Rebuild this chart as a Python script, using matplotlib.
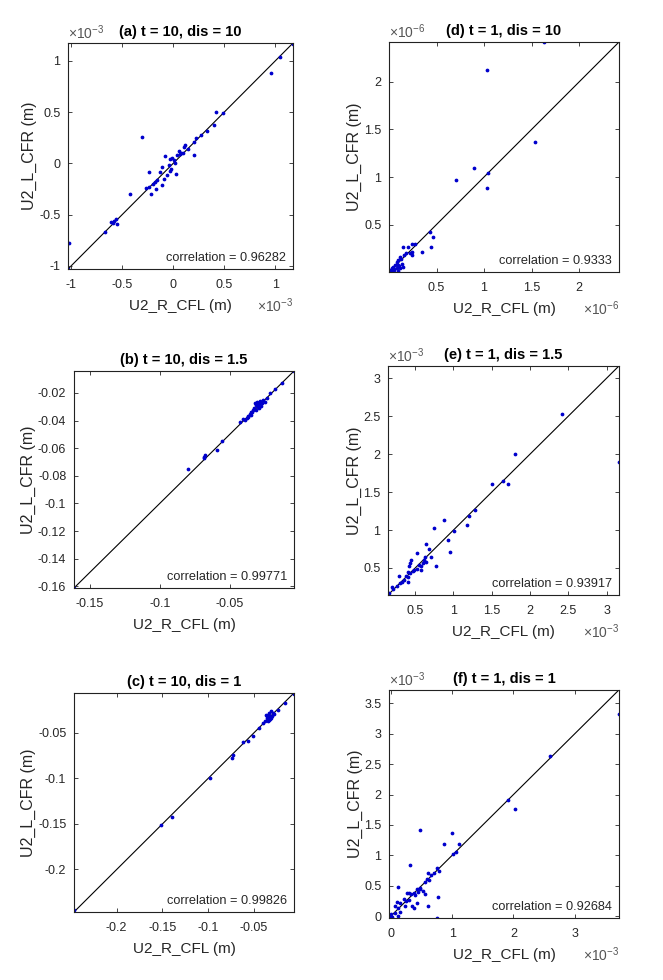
import numpy as np
import matplotlib
matplotlib.use('Agg')
import matplotlib.pyplot as plt
from matplotlib.ticker import FuncFormatter

plt.rcParams['font.family'] = ['Liberation Sans', 'DejaVu Sans']
plt.rcParams['mathtext.fontset'] = 'custom'
plt.rcParams['mathtext.rm'] = 'Liberation Sans'
plt.rcParams['mathtext.it'] = 'Liberation Sans:italic'

# (a) t = 10, dis = 10   values in 1e-3 m
a_x = [1.175, 1.045, 0.955, 0.42, 0.49, 0.40, 0.27, 0.22, 0.20, 0.12,
       0.11, 0.06, 0.08, 0.10, 0.04, 0.20, -0.08, -0.01, -0.03, 0.01,
       -0.11, -0.04, -0.02, -0.03, 0.03, -0.24, -0.13, -0.06, -0.09, -0.16,
       -0.18, -0.11, -0.20, -0.24, -0.27, -0.17, -0.22, -0.42, -0.31, -0.58,
       -0.56, -0.59, -0.55, -0.61, -0.67, -1.02, -1.03, 0.02, 0.07, 0.15, 0.33]
a_y = [1.17, 1.04, 0.885, 0.50, 0.49, 0.38, 0.28, 0.25, 0.21, 0.18,
       0.16, 0.12, 0.10, 0.10, 0.08, 0.08, 0.07, 0.05, 0.04, 0.03,
       -0.03, -0.02, -0.05, -0.07, -0.10, -0.08, -0.08, -0.11, -0.15, -0.16,
       -0.18, -0.21, -0.20, -0.23, -0.24, -0.25, -0.30, -0.30, 0.26, -0.56,
       -0.54, -0.58, -0.59, -0.57, -0.67, -0.78, -1.03, 0.00, 0.09, 0.14, 0.32]

# (b) t = 10, dis = 1.5   values in m
b_x = [-0.0041, -0.0129, -0.0212, -0.0236, -0.0248, -0.0272, -0.0307, -0.0319, -0.0296, -0.0284,
       -0.0289, -0.0331, -0.0343, -0.0355, -0.0367, -0.0379, -0.0403, -0.0427, -0.0557, -0.0593,
       -0.0677, -0.0684, -0.0800, -0.1612, -0.0300, -0.0290, -0.0315, -0.0278, -0.0330, -0.0350,
       -0.0262, -0.0310, -0.0345, -0.0370, -0.0390, -0.0175, -0.0680]
b_y = [-0.0041, -0.0130, -0.0202, -0.0234, -0.0263, -0.0275, -0.0263, -0.0275, -0.0287, -0.0258,
       -0.0306, -0.0323, -0.0335, -0.0354, -0.0371, -0.0378, -0.0388, -0.0407, -0.0551, -0.0611,
       -0.0652, -0.0671, -0.0753, -0.1612, -0.0300, -0.0270, -0.0290, -0.0295, -0.0310, -0.0340,
       -0.0250, -0.0320, -0.0360, -0.0365, -0.0395, -0.0170, -0.0660]

# (c) t = 10, dis = 1   values in m
c_x = [-0.0060, -0.0157, -0.0230, -0.0315, -0.0340, -0.0322, -0.0358, -0.0304, -0.0330, -0.0377,
       -0.0395, -0.0340, -0.0366, -0.0439, -0.0504, -0.0559, -0.0620, -0.0723, -0.0741, -0.0980,
       -0.1400, -0.1510, -0.2467, -0.0310, -0.0335, -0.0350, -0.0290, -0.0325, -0.0280]
c_y = [-0.0070, -0.0169, -0.0243, -0.0261, -0.0298, -0.0316, -0.0335, -0.0309, -0.0353, -0.0371,
       -0.0390, -0.0371, -0.0298, -0.0445, -0.0537, -0.0592, -0.0600, -0.0739, -0.0776, -0.1000,
       -0.1420, -0.1510, -0.2450, -0.0330, -0.0280, -0.0310, -0.0275, -0.0345, -0.0290]

# (d) t = 1, dis = 10   values in 1e-6 m
d_x = [1.636, 1.035, 1.537, 0.894, 0.71, 1.04, 1.035, 0.435, 0.46, 0.445,
       0.346, 0.27, 0.24, 0.152, 0.198, 0.247, 0.247, 0.22, 0.177, 0.16,
       0.117, 0.127, 0.099, 0.081, 0.141, 0.064, 0.099, 0.046, 0.081, 0.028,
       0.117, 0.01, 0.15, 0.057, 0.09, 0.0, 0.03, 0.05, 0.02, 0.11]
d_y = [2.42, 2.13, 1.37, 1.09, 0.97, 1.04, 0.88, 0.425, 0.365, 0.267,
       0.214, 0.30, 0.29, 0.267, 0.267, 0.214, 0.18, 0.196, 0.196, 0.18,
       0.16, 0.133, 0.126, 0.109, 0.084, 0.074, 0.074, 0.056, 0.039, 0.039,
       0.039, 0.021, 0.05, 0.021, 0.014, 0.01, 0.02, 0.03, 0.005, 0.06]

# (e) t = 1, dis = 1.5   values in 1e-3 m
e_x = [3.16, 2.42, 1.80, 1.65, 1.71, 1.50, 1.28, 1.18, 1.20, 1.01,
       0.87, 0.75, 0.93, 0.95, 0.77, 0.64, 0.68, 0.71, 0.63, 0.61,
       0.64, 0.60, 0.575, 0.55, 0.53, 0.57, 0.52, 0.44, 0.43, 0.42,
       0.49, 0.465, 0.43, 0.40, 0.41, 0.38, 0.36, 0.29, 0.33, 0.41,
       0.30, 0.26, 0.20, 0.215, 0.16, 0.145]
e_y = [1.90, 2.53, 2.00, 1.65, 1.60, 1.61, 1.27, 1.06, 1.19, 0.99,
       1.13, 1.03, 0.87, 0.71, 0.52, 0.82, 0.75, 0.65, 0.64, 0.61,
       0.58, 0.56, 0.52, 0.54, 0.49, 0.48, 0.70, 0.60, 0.56, 0.52,
       0.47, 0.46, 0.44, 0.45, 0.38, 0.39, 0.34, 0.39, 0.32, 0.31,
       0.30, 0.26, 0.25, 0.22, 0.17, 0.15]

# (f) t = 1, dis = 1   values in 1e-3 m
f_x = [3.72, 2.60, 1.91, 2.03, 0.47, 0.995, 0.86, 1.11, 1.06, 1.01,
       0.32, 0.75, 0.78, 0.70, 0.65, 0.60, 0.59, 0.63, 0.55, 0.47,
       0.48, 0.42, 0.45, 0.52, 0.56, 0.11, 0.26, 0.30, 0.33, 0.37,
       0.40, 0.21, 0.25, 0.29, 0.15, 0.10, 0.77, 0.07, 0.125, 0.23,
       0.34, 0.37, 0.42, 0.61, 0.15, 0.07, 0.125, -0.01, 0.016, 0.75, 0.005]
f_y = [3.32, 2.63, 1.91, 1.77, 1.41, 1.37, 1.19, 1.19, 1.05, 1.02,
       0.84, 0.79, 0.74, 0.71, 0.68, 0.71, 0.61, 0.59, 0.56, 0.46,
       0.44, 0.44, 0.39, 0.41, 0.37, 0.48, 0.38, 0.38, 0.36, 0.38,
       0.34, 0.28, 0.25, 0.27, 0.22, 0.23, 0.32, 0.16, 0.14, 0.16,
       0.16, 0.14, 0.21, 0.16, 0.07, 0.05, 0.0, 0.01, -0.01, -0.03, 0.04]

titles = ['(a) t = 10, dis = 10', '(b) t = 10, dis = 1.5', '(c) t = 10, dis = 1',
          '(d) t = 1, dis = 10', '(e) t = 1, dis = 1.5', '(f) t = 1, dis = 1']
correlations = ['0.96282', '0.99771', '0.99826', '0.9333', '0.93917', '0.92684']
exponents = [-3, None, None, -6, -3, -3]
xticks = [[-1, -0.5, 0, 0.5, 1], [-0.15, -0.1, -0.05], [-0.2, -0.15, -0.1, -0.05],
          [0.5, 1, 1.5, 2], [0.5, 1, 1.5, 2, 2.5, 3], [0, 1, 2, 3]]
yticks = [[-1, -0.5, 0, 0.5, 1], [-0.16, -0.14, -0.12, -0.1, -0.08, -0.06, -0.04, -0.02],
          [-0.2, -0.15, -0.1, -0.05], [0.5, 1, 1.5, 2], [0.5, 1, 1.5, 2, 2.5, 3],
          [0, 0.5, 1, 1.5, 2, 2.5, 3, 3.5]]
xs = [a_x, b_x, c_x, d_x, e_x, f_x]
ys = [a_y, b_y, c_y, d_y, e_y, f_y]

# axes boxes [left, bottom, width, height] in figure fraction
boxes = [[0.1026, 0.7255, 0.3394, 0.2306],
         [0.1116, 0.4000, 0.3318, 0.2214],
         [0.1116, 0.0694, 0.3318, 0.2235],
         [0.5867, 0.7224, 0.3469, 0.2347],
         [0.5852, 0.3929, 0.3484, 0.2337],
         [0.5867, 0.0633, 0.3469, 0.2327]]
# distance (pixels) from axes left edge to the y label centre
ylabel_px = [39, 46, 46, 35, 34, 34]

TXT = '#262626'
W = 663
fig = plt.figure(figsize=(6.63, 9.8), dpi=100)
fmt = FuncFormatter(lambda v, p: '%g' % round(v, 6))

for i in range(6):
    ax = fig.add_axes(boxes[i])
    x = np.array(xs[i])
    y = np.array(ys[i])
    lo = min(x.min(), y.min())
    hi = max(x.max(), y.max())
    ax.plot([lo, hi], [lo, hi], color='black', lw=0.8, zorder=1)
    ax.plot(x, y, '.', color='#0000cc', ms=3.4, zorder=2)
    ax.set_xlim(lo, hi)
    ax.set_ylim(lo, hi)
    ax.set_xticks(xticks[i])
    ax.set_yticks(yticks[i])
    ax.xaxis.set_major_formatter(fmt)
    ax.yaxis.set_major_formatter(fmt)
    ax.tick_params(direction='in', length=3, width=0.6, top=True, right=True,
                   labelsize=9, colors=TXT, pad=5.5)
    ax.tick_params(axis='x', pad=7)
    for s in ax.spines.values():
        s.set_linewidth(0.8)
        s.set_color('#222222')
    ax.set_title(titles[i], fontsize=10.5, fontweight='bold', pad=5)
    ax.set_xlabel('U2_R_CFL (m)', fontsize=11, color=TXT, labelpad=6)
    ax.set_ylabel('U2_L_CFR (m)', fontsize=11.5, color=TXT, va='center')
    ax.yaxis.set_label_coords(-ylabel_px[i] / (boxes[i][2] * W), 0.5)
    ax.annotate('correlation = ' + correlations[i], xy=(1, 0), xycoords='axes fraction',
                xytext=(-7, 5), textcoords='offset pixels', ha='right', va='bottom',
                fontsize=9.2, color=TXT)
    if exponents[i] is not None:
        lab = r'$\times10^{%d}$' % exponents[i]
        ax.annotate(lab, xy=(0, 1), xycoords='axes fraction', xytext=(0, 1),
                    textcoords='offset pixels', ha='left', va='bottom',
                    fontsize=10, color='#555555')
        ax.annotate(lab, xy=(1, 0), xycoords='axes fraction', xytext=(0, -27),
                    textcoords='offset pixels', ha='right', va='top',
                    fontsize=10, color='#555555')

fig.savefig('out.png', dpi=100)
